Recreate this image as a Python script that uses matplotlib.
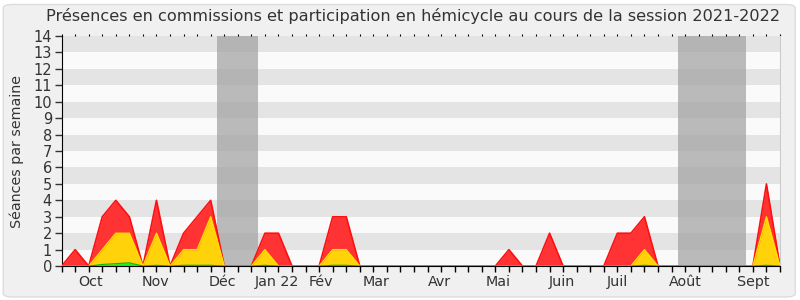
import matplotlib
matplotlib.use("Agg")
import matplotlib.pyplot as plt
from matplotlib.patches import FancyBboxPatch
import numpy as np

# weekly values, session 2021-2022 (54 weeks)
weeks = np.arange(54)
total = [0, 1, 0, 3, 4, 3, 0, 4, 0, 2, 3, 4, 0, 0, 0, 2, 2, 0, 0, 0,
         3, 3, 0, 0, 0, 0, 0, 0, 0, 0, 0, 0, 0, 1, 0, 0, 2, 0, 0, 0,
         0, 2, 2, 3, 0, 0, 0, 0, 0, 0, 0, 0, 5, 0]
hemicycle = [0, 0, 0, 1, 2, 2, 0, 2, 0, 1, 1, 3, 0, 0, 0, 1, 0, 0, 0, 0,
             1, 1, 0, 0, 0, 0, 0, 0, 0, 0, 0, 0, 0, 0, 0, 0, 0, 0, 0, 0,
             0, 0, 0, 1, 0, 0, 0, 0, 0, 0, 0, 0, 3, 0]
interventions = [0, 0, 0, 0.1, 0.15, 0.2, 0, 0.05, 0, 0.05, 0.05, 0.05, 0, 0, 0, 0.05, 0, 0, 0, 0,
                 0.05, 0.05, 0, 0, 0, 0, 0, 0, 0, 0, 0, 0, 0, 0, 0, 0, 0, 0, 0, 0,
                 0, 0, 0, 0.05, 0, 0, 0, 0, 0, 0, 0, 0, 0.05, 0]
vacances = [(11.5, 14.5), (45.5, 50.5)]
month_pos = [2.1, 6.9, 11.9, 15.9, 19.15, 23.2, 27.9, 32.2, 36.9, 41.0, 46.0, 51.0]
month_labels = ["Oct", "Nov", "Déc", "Jan 22", "Fév", "Mar", "Avr", "Mai", "Juin", "Juil", "Août", "Sept"]

fig = plt.figure(figsize=(8, 3), dpi=100)
fig.patch.set_facecolor("white")
bg = FancyBboxPatch((0.004, 0.01), 0.99, 0.975, boxstyle="round,pad=0,rounding_size=0.012",
                    transform=fig.transFigure, facecolor="#f0f0f0", edgecolor="#dcdcdc", lw=1,
                    zorder=-10)
fig.add_artist(bg)

ax = fig.add_axes([0.077, 0.113, 0.898, 0.767])
ax.set_zorder(5)
ax.set_xlim(0, 53)
ax.set_ylim(0, 14)

# horizontal bands
for k in range(14):
    ax.axhspan(k, k + 1, color="#e4e4e4" if k % 2 == 1 else "#fafafa", lw=0, zorder=0)
for a, b in vacances:
    ax.axvspan(a, b, color="#a0a0a0", alpha=0.7, lw=0, zorder=1)

ax.fill_between(weeks, total, color="#ff3333", lw=0, zorder=2)
ax.plot(weeks, total, color="#ff1010", lw=1.2, zorder=3)
ax.fill_between(weeks, hemicycle, color="#ffd20a", lw=0, zorder=4)
ax.plot(weeks, hemicycle, color="#ffe000", lw=1, zorder=5)
ax.fill_between(weeks, interventions, color="#22ee22", lw=0, zorder=6)
ax.plot(weeks, interventions, color="#00bb00", lw=0.8, zorder=7)

ax.set_yticks(range(15))
ax.set_xticks(weeks)
ax.set_xticklabels([])
ax.tick_params(axis="y", length=5, width=1, labelsize=10.5, colors="#333333", pad=2)
ax.tick_params(axis="x", length=4, width=1, color="black")
ax.tick_params(axis="x", which="major", top=True, labeltop=False)
for t in ax.xaxis.get_ticklines()[1::2]:
    t.set_markersize(1.2)
    t.set_markeredgewidth(0.8)
    t.set_color("#555555")
for pos, lab in zip(month_pos, month_labels):
    ax.text(pos, -0.55, lab, ha="center", va="top", fontsize=10.3, color="#333333",
            transform=ax.transData)

ax.spines["top"].set_visible(False)
ax.spines["right"].set_color("#cccccc")
ax.spines["left"].set_color("black")
ax.spines["bottom"].set_color("black")
ax.spines["bottom"].set_zorder(8)

ax.set_ylabel("Séances par semaine", fontsize=10.3, color="#333333")
ax.yaxis.set_label_coords(-0.052, 0.5)
fig.text(0.516, 0.945, "Présences en commissions et participation en hémicycle au cours de la session 2021-2022",
         ha="center", va="center", fontsize=11.6, color="#333333")

fig.savefig("out.png", dpi=100, facecolor=fig.get_facecolor())
